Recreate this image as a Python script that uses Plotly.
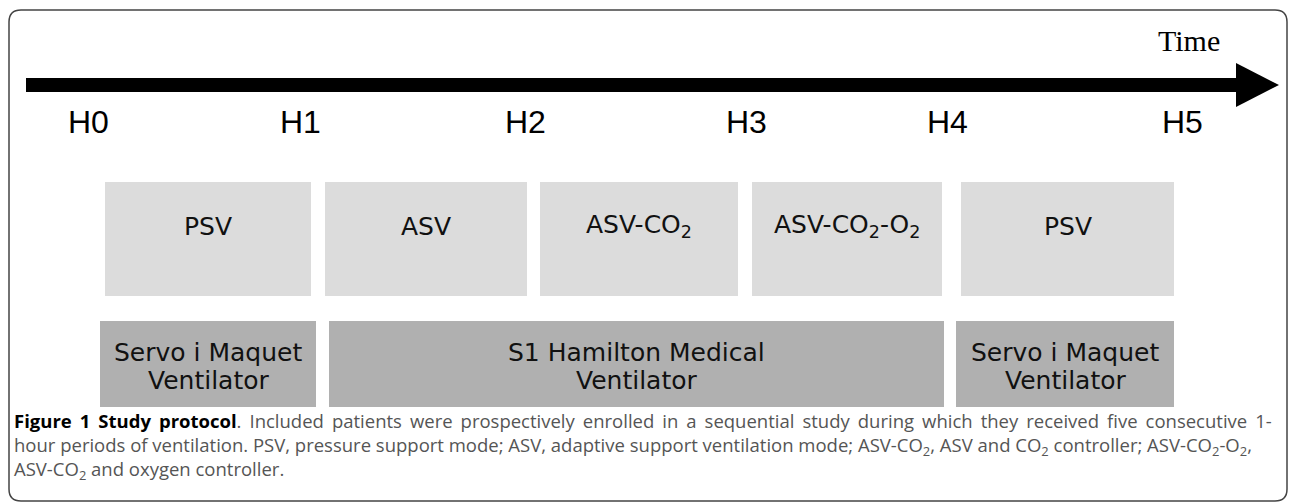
import plotly.graph_objects as go

# ---- data (diagram content) ----
hour_labels = ["H0", "H1", "H2", "H3", "H4", "H5"]
hour_x = [88, 300, 525, 746, 947, 1182]

mode_labels = ["PSV", "ASV", "ASV-CO<sub>2</sub>", "ASV-CO<sub>2</sub>-O<sub>2</sub>", "PSV"]
mode_start = [105, 325, 540, 752, 961]
mode_end = [311, 527, 738, 942, 1174]

device_lines = [["Servo i Maquet", "Ventilator"],
                ["S1 Hamilton Medical", "Ventilator"],
                ["Servo i Maquet", "Ventilator"]]
device_start = [100, 329, 956]
device_end = [316, 944, 1174]

caption_lines = [
    "<span style='color:#000000'><b>Figure 1 Study protocol</b></span>. Included patients were prospectively enrolled in a sequential study during which they received five consecutive 1-",
    "hour periods of ventilation. PSV, pressure support mode; ASV, adaptive support ventilation mode; ASV-CO<sub>2</sub>, ASV and CO<sub>2</sub> controller; ASV-CO<sub>2</sub>-O<sub>2</sub>,",
    "ASV-CO<sub>2</sub> and oxygen controller.",
]
caption_wordspacing = [3.2, 0, 0]

W, H = 1290, 504
fig = go.Figure()
shapes = []
annotations = []

# frame (rounded rectangle)
x0, x1, y0, y1, r = 9, 1287, 10, 501, 12
frame_path = (f"M {x0+r},{y0} L {x1-r},{y0} Q {x1},{y0} {x1},{y0+r} "
              f"L {x1},{y1-r} Q {x1},{y1} {x1-r},{y1} L {x0+r},{y1} "
              f"Q {x0},{y1} {x0},{y1-r} L {x0},{y0+r} Q {x0},{y0} {x0+r},{y0} Z")
shapes.append(dict(type="path", path=frame_path, xref="x", yref="y",
                   line=dict(color="#444444", width=1.5), fillcolor="rgba(0,0,0,0)"))

# time arrow
ay = 85
shapes.append(dict(type="rect", xref="x", yref="y", x0=26, x1=1238, y0=ay - 7, y1=ay + 7,
                   fillcolor="black", line=dict(width=0)))
shapes.append(dict(type="path", xref="x", yref="y",
                   path=f"M 1236,{ay-22} L 1279,{ay} L 1236,{ay+22} Z",
                   fillcolor="black", line=dict(width=0)))
annotations.append(dict(x=1189, y=40, text="Time", showarrow=False, xref="x", yref="y",
                        font=dict(family="Liberation Serif", size=30, color="black")))

for lab, hx in zip(hour_labels, hour_x):
    annotations.append(dict(x=hx, y=122, text=lab, showarrow=False, xref="x", yref="y",
                            font=dict(family="Liberation Sans", size=32, color="black")))

for lab, s, e in zip(mode_labels, mode_start, mode_end):
    shapes.append(dict(type="rect", xref="x", yref="y", x0=s, x1=e, y0=182, y1=296,
                       fillcolor="#dcdcdc", line=dict(width=0), layer="below"))
    annotations.append(dict(x=(s + e) / 2, y=226, text=lab, showarrow=False, xref="x", yref="y",
                            yanchor="middle",
                            font=dict(family="DejaVu Sans", size=25, color="#111111")))

for lines, s, e in zip(device_lines, device_start, device_end):
    shapes.append(dict(type="rect", xref="x", yref="y", x0=s, x1=e, y0=321, y1=407,
                       fillcolor="#b0b0b0", line=dict(width=0), layer="below"))
    for i, ln in enumerate(lines):
        annotations.append(dict(x=(s + e) / 2, y=352 + 28 * i, text=ln, showarrow=False,
                                xref="x", yref="y", yanchor="middle",
                                font=dict(family="DejaVu Sans", size=25, color="#111111")))

caption_parts = []
for ln, ws in zip(caption_lines, caption_wordspacing):
    caption_parts.append(f"<span style='word-spacing:{ws}px'>{ln}</span>" if ws else ln)
annotations.append(dict(x=12, y=446, text="<br>".join(caption_parts), showarrow=False,
                        xref="x", yref="y", xanchor="left", yanchor="middle", align="left",
                        font=dict(family="Open Sans", size=18.5, color="#555555")))

fig.update_layout(
    width=W, height=H,
    margin=dict(l=0, r=0, t=0, b=0),
    paper_bgcolor="white", plot_bgcolor="white",
    xaxis=dict(range=[0, W], visible=False, fixedrange=True),
    yaxis=dict(range=[H, 0], visible=False, fixedrange=True),
    shapes=shapes, annotations=annotations, showlegend=False,
)
fig.write_html("out.html", config={"displayModeBar": False},
               post_script="document.body.style.margin='0px';document.body.style.overflow='hidden';")
